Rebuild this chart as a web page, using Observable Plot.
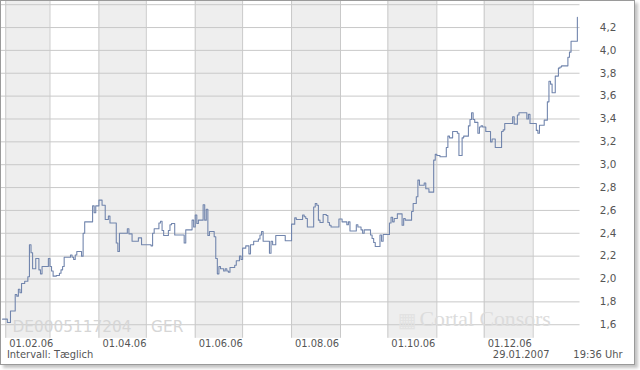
<!DOCTYPE html>
<html>
<head>
<meta charset="utf-8">
<script src="https://cdn.jsdelivr.net/npm/d3@7"></script>
<script src="https://cdn.jsdelivr.net/npm/@observablehq/plot@0.6"></script>
<style>
  html, body { margin: 0; padding: 0; background: #fff; }
  #wrap {
    position: absolute; left: 0; top: 0;
    width: 633px; height: 363px;
    border: 1px solid #9a9a9a;
    box-shadow: 3px 3px 3px #c4c4c4;
    overflow: hidden; background: #fff;
  }
  #chart { position: absolute; left: -1px; top: -1px; }
</style>
</head>
<body>
<div id="wrap"><div id="chart"></div></div>
<script>
const dates = [
"2006-01-30","2006-02-02","2006-02-04","2006-02-07","2006-02-08","2006-02-09","2006-02-10","2006-02-11","2006-02-13","2006-02-15",
"2006-02-16","2006-02-17","2006-02-18","2006-02-20","2006-02-22","2006-02-23","2006-02-24","2006-02-28","2006-03-01","2006-03-02",
"2006-03-03","2006-03-05","2006-03-07","2006-03-08","2006-03-09","2006-03-10","2006-03-14","2006-03-15","2006-03-16","2006-03-17",
"2006-03-18","2006-03-21","2006-03-22","2006-03-23","2006-03-28","2006-03-29","2006-03-30","2006-04-01","2006-04-03","2006-04-05",
"2006-04-07","2006-04-08","2006-04-12","2006-04-13","2006-04-14","2006-04-19","2006-04-20","2006-04-22","2006-04-26","2006-04-28",
"2006-05-04","2006-05-05","2006-05-06","2006-05-09","2006-05-10","2006-05-11","2006-05-12","2006-05-15","2006-05-16","2006-05-17",
"2006-05-19","2006-05-25","2006-05-26","2006-05-30","2006-05-31","2006-06-01","2006-06-02","2006-06-03","2006-06-06","2006-06-07",
"2006-06-08","2006-06-09","2006-06-10","2006-06-13","2006-06-14","2006-06-15","2006-06-16","2006-06-17","2006-06-19","2006-06-20",
"2006-06-21","2006-06-22","2006-06-23","2006-06-26","2006-06-27","2006-06-29","2006-06-30","2006-07-01","2006-07-03","2006-07-05",
"2006-07-06","2006-07-08","2006-07-11","2006-07-12","2006-07-13","2006-07-14","2006-07-18","2006-07-19","2006-07-20","2006-07-22",
"2006-07-28","2006-08-01","2006-08-03","2006-08-04","2006-08-08","2006-08-09","2006-08-10","2006-08-11","2006-08-15","2006-08-16",
"2006-08-17","2006-08-18","2006-08-19","2006-08-21","2006-08-23","2006-08-24","2006-08-25","2006-08-26","2006-08-31","2006-09-02",
"2006-09-05","2006-09-06","2006-09-07","2006-09-11","2006-09-12","2006-09-14","2006-09-15","2006-09-16","2006-09-20","2006-09-21",
"2006-09-22","2006-09-23","2006-09-26","2006-09-27","2006-09-28","2006-10-02","2006-10-03","2006-10-04","2006-10-05","2006-10-07",
"2006-10-10","2006-10-11","2006-10-12","2006-10-16","2006-10-17","2006-10-19","2006-10-20","2006-10-21","2006-10-24","2006-10-25",
"2006-10-27","2006-10-30","2006-10-31","2006-11-01","2006-11-03","2006-11-07","2006-11-08","2006-11-09","2006-11-11","2006-11-14",
"2006-11-15","2006-11-17","2006-11-18","2006-11-21","2006-11-22","2006-11-23","2006-11-24","2006-11-25","2006-11-27","2006-11-28",
"2006-11-29","2006-11-30","2006-12-02","2006-12-05","2006-12-06","2006-12-08","2006-12-12","2006-12-13","2006-12-14","2006-12-19",
"2006-12-20","2006-12-22","2006-12-23","2006-12-28","2006-12-29","2006-12-30","2007-01-03","2007-01-04","2007-01-05","2007-01-08",
"2007-01-10","2007-01-11","2007-01-12","2007-01-13","2007-01-15","2007-01-17","2007-01-18","2007-01-19","2007-01-23","2007-01-24",
"2007-01-25","2007-01-29"
];
const values = [
1.649,1.62,1.72,1.865,1.85,1.91,1.88,1.96,1.98,2.02,
2.30,2.23,2.09,2.18,2.08,2.045,2.11,2.18,2.11,2.07,
2.025,2.03,2.05,2.08,2.11,2.19,2.21,2.19,2.17,2.21,
2.24,2.20,2.40,2.50,2.64,2.58,2.64,2.69,2.645,2.52,
2.55,2.49,2.315,2.24,2.40,2.44,2.395,2.33,2.36,2.30,
2.29,2.40,2.44,2.49,2.505,2.425,2.38,2.425,2.475,2.485,
2.385,2.315,2.43,2.515,2.455,2.56,2.485,2.515,2.65,2.515,
2.61,2.38,2.415,2.37,2.18,2.045,2.11,2.09,2.07,2.09,
2.07,2.06,2.10,2.12,2.16,2.20,2.17,2.27,2.29,2.22,
2.30,2.33,2.35,2.385,2.415,2.33,2.225,2.33,2.30,2.38,
2.335,2.48,2.535,2.52,2.56,2.545,2.53,2.455,2.63,2.66,
2.645,2.515,2.495,2.565,2.555,2.495,2.47,2.455,2.525,2.50,
2.475,2.50,2.42,2.475,2.455,2.43,2.40,2.43,2.385,2.355,
2.32,2.285,2.385,2.33,2.39,2.49,2.54,2.50,2.53,2.57,
2.47,2.53,2.515,2.59,2.66,2.72,2.865,2.82,2.84,2.79,
2.76,3.04,3.09,3.08,3.07,3.15,3.25,3.235,3.29,3.275,
3.08,3.235,3.25,3.34,3.395,3.455,3.395,3.37,3.275,3.33,
3.34,3.33,3.29,3.20,3.225,3.15,3.29,3.305,3.36,3.42,
3.355,3.435,3.455,3.40,3.44,3.36,3.30,3.275,3.345,3.39,
3.55,3.73,3.705,3.63,3.775,3.845,3.855,3.865,3.94,3.985,
4.08,4.29
];
const monthStarts = ["2006-02-01","2006-03-01","2006-04-01","2006-05-01","2006-06-01","2006-07-01","2006-08-01","2006-09-01","2006-10-01","2006-11-01","2006-12-01","2007-01-01"];
const shadedMonths = ["2006-02-01","2006-04-01","2006-06-01","2006-08-01","2006-10-01","2006-12-01"];
const xTickDates = ["2006-02-01","2006-04-01","2006-06-01","2006-08-01","2006-10-01","2006-12-01"];
const xTickLabels = ["01.02.06","01.04.06","01.06.06","01.08.06","01.10.06","01.12.06"];
const yTicks = [1.6,1.8,2.0,2.2,2.4,2.6,2.8,3.0,3.2,3.4,3.6,3.8,4.0,4.2];
const yGrid = [1.6,1.8,2.0,2.2,2.4,2.6,2.8,3.0,3.2,3.4,3.6,3.8,4.0,4.2,4.4];
const isin = "DE0005117204";
const exchange = "GER";
const interval = "Intervall: Tæglich";
const stampDate = "29.01.2007";
const stampTime = "19:36 Uhr";
const brand = "Cortal Consors";

const parse = d3.utcParse("%Y-%m-%d");
const data = dates.map((d, i) => ({date: parse(d), value: values[i]}));
const months = monthStarts.map(parse);
const bands = shadedMonths.map(s => {
  const a = parse(s);
  return {x1: a, x2: d3.utcMonth.offset(a, 1)};
});
const ticks = xTickDates.map((d, i) => ({date: parse(d), label: xTickLabels[i]}));

const font = "DejaVu Sans, Verdana, sans-serif";
const chart = Plot.plot({
  width: 640,
  height: 370,
  marginLeft: 1,
  marginRight: 55,
  marginTop: 1,
  marginBottom: 29,
  style: {fontFamily: font, fontSize: "10px", color: "#555", background: "#fff"},
  x: {type: "utc", domain: [parse("2006-02-01"), parse("2007-01-01")], range: [5.3, 537.7], axis: null},
  y: {domain: [1.6, 4.2], range: [327.3, 27.3], axis: null},
  marks: [
    Plot.rectX(bands, {x1: "x1", x2: "x2", fill: "#eeeeee"}),
    Plot.ruleY(yGrid, {stroke: "#c8c8c8", strokeWidth: 1}),
    Plot.ruleX(months, {stroke: "#c8c8c8", strokeWidth: 1}),
    Plot.text([isin], {frameAnchor: "bottom-left", lineAnchor: "middle", dx: 11, dy: -11, textAnchor: "start", fontSize: 15.5, fill: "#d6d6d6"}),
    Plot.text([exchange], {frameAnchor: "bottom-left", lineAnchor: "middle", dx: 151, dy: -11, textAnchor: "start", fontSize: 15.5, fill: "#d6d6d6"}),
    Plot.text(["▦"], {frameAnchor: "bottom-left", lineAnchor: "middle", dx: 400, dy: -18, textAnchor: "start", fontSize: 20, fill: "#e2e2e2"}),
    Plot.text([brand], {frameAnchor: "bottom-left", lineAnchor: "middle", dx: 422, dy: -19, textAnchor: "start", fontSize: 22, fontFamily: "Liberation Serif, serif", fill: "#dcdcdc", letterSpacing: -0.3}),
    Plot.line(data, {x: "date", y: "value", curve: "step-after", stroke: "#7185ad", strokeWidth: 1.1}),
    Plot.axisY(yTicks, {anchor: "right", label: null, tickSize: 0, tickPadding: 20, tickFormat: d => d.toFixed(1).replace(".", ","), fill: "#555", fontSize: 10.5}),
    Plot.text(ticks, {x: "date", text: "label", frameAnchor: "bottom", lineAnchor: "middle", textAnchor: "start", dx: 3.5, dy: 5.5, fill: "#555"}),
    Plot.text([interval], {frameAnchor: "bottom-left", lineAnchor: "middle", textAnchor: "start", dx: 5.5, dy: 16.5, fill: "#555"}),
    Plot.text([stampDate], {frameAnchor: "bottom-right", lineAnchor: "middle", textAnchor: "start", dx: -88, dy: 16.5, fill: "#555"}),
    Plot.text([stampTime], {frameAnchor: "bottom-right", lineAnchor: "middle", textAnchor: "end", dx: 43, dy: 16.5, fill: "#555"})
  ]
});
document.getElementById("chart").appendChild(chart);
</script>
</body>
</html>
